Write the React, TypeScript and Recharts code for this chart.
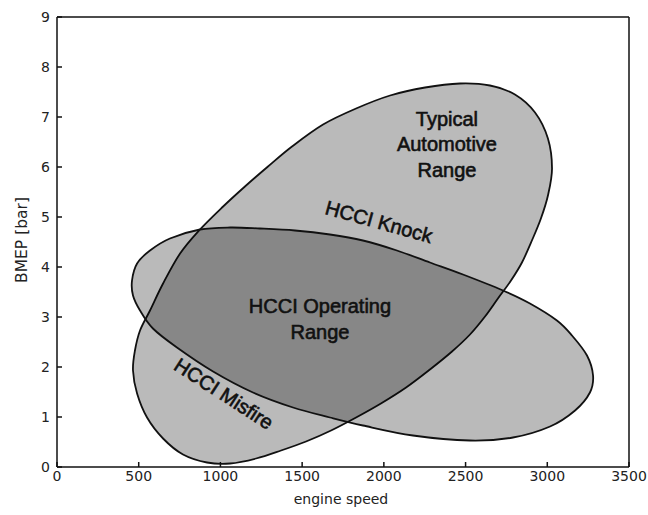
import React from "react";
import { ScatterChart, Scatter, XAxis, YAxis, ReferenceDot } from "recharts";

// outline of the typical automotive range, traced clockwise from the lower-left end
const autoRpm = [490, 465, 477, 508, 569, 649, 753, 869, 1010, 1150, 1291, 1438, 1628, 1830, 2038, 2252, 2466, 2649, 2802, 2925, 3004, 3029, 3004, 2961, 2906, 2845, 2778, 2698, 2619, 2527, 2417, 2282, 2136, 1982, 1830, 1677, 1524, 1371, 1218, 1059, 918, 771, 649, 551];
const autoBmep = [1.47, 1.93, 2.33, 2.73, 3.13, 3.67, 4.27, 4.73, 5.19, 5.61, 6.01, 6.41, 6.85, 7.17, 7.43, 7.59, 7.67, 7.63, 7.45, 7.09, 6.57, 5.97, 5.43, 4.97, 4.53, 4.09, 3.73, 3.37, 3.01, 2.65, 2.31, 1.95, 1.59, 1.27, 0.99, 0.73, 0.51, 0.33, 0.17, 0.07, 0.09, 0.25, 0.57, 0.99];

// outline of the HCCI window (knock limit on top, misfire limit underneath)
const hcciRpm = [459, 490, 569, 691, 875, 1059, 1242, 1456, 1670, 1872, 2080, 2282, 2484, 2729, 2894, 3059, 3151, 3243, 3280, 3261, 3170, 3017, 2790, 2527, 2178, 1872, 1670, 1444, 1199, 955, 734, 587, 508, 465];
const hcciBmep = [3.73, 4.07, 4.33, 4.57, 4.75, 4.79, 4.77, 4.73, 4.65, 4.53, 4.33, 4.09, 3.85, 3.53, 3.27, 2.93, 2.63, 2.23, 1.83, 1.49, 1.13, 0.81, 0.59, 0.53, 0.63, 0.83, 0.99, 1.19, 1.49, 1.91, 2.39, 2.77, 3.13, 3.43];

const rpmTicks = [0, 500, 1000, 1500, 2000, 2500, 3000, 3500];
const bmepTicks = [0, 1, 2, 3, 4, 5, 6, 7, 8, 9];

const autoData = autoRpm.map((rpm, i) => ({ rpm, bmep: autoBmep[i] }));
const hcciData = hcciRpm.map((rpm, i) => ({ rpm, bmep: hcciBmep[i] }));

const AXIS_FONT = "'DejaVu Sans', sans-serif";
const NOTE_FONT = "'Liberation Sans', Arial, sans-serif";

// closed Catmull-Rom spline through the scaled points
function closedPath(pts: { x: number; y: number }[]) {
  const n = pts.length;
  if (!n) return "";
  let d = `M${pts[0].x},${pts[0].y}`;
  for (let i = 0; i < n; i++) {
    const p0 = pts[(i - 1 + n) % n];
    const p1 = pts[i];
    const p2 = pts[(i + 1) % n];
    const p3 = pts[(i + 2) % n];
    const c1x = p1.x + (p2.x - p0.x) / 6;
    const c1y = p1.y + (p2.y - p0.y) / 6;
    const c2x = p2.x - (p3.x - p1.x) / 6;
    const c2y = p2.y - (p3.y - p1.y) / 6;
    d += ` C${c1x},${c1y} ${c2x},${c2y} ${p2.x},${p2.y}`;
  }
  return d + " Z";
}

const region = (props: any) => (
  <path
    d={closedPath(props.points)}
    fill="#000"
    fillOpacity={0.27}
    stroke="#111"
    strokeWidth={1.8}
  />
);

const noMarker = () => <g />;

const note = (lines: string[], angle = 0) => (props: any) => {
  const { x, y } = props.viewBox;
  const n = lines.length;
  return (
    <text
      transform={`rotate(${angle}, ${x}, ${y})`}
      textAnchor="middle"
      fontFamily={NOTE_FONT}
      fontSize={20}
      fill="#111"
      stroke="#111"
      strokeWidth={0.6}
    >
      {lines.map((t, i) => (
        <tspan key={t} x={x} y={y + (i - (n - 1) / 2) * 25.5 + 7.2}>
          {t}
        </tspan>
      ))}
    </text>
  );
};

const xTitle = (props: any) => {
  const { x, y, width } = props.viewBox;
  return (
    <text x={x + width / 2 - 2} y={y + 37} textAnchor="middle" fontFamily={AXIS_FONT} fontSize={14} fill="#222">
      engine speed
    </text>
  );
};

const yTitle = (props: any) => {
  const { x, y, height } = props.viewBox;
  const cx = x + 27;
  const cy = y + height / 2 - 2;
  return (
    <text x={cx} y={cy} transform={`rotate(-90, ${cx}, ${cy})`} textAnchor="middle" fontFamily={AXIS_FONT} fontSize={15.5} fill="#222">
      BMEP [bar]
    </text>
  );
};

const tickStyle = { fill: "#222", fontSize: 14, fontFamily: AXIS_FONT };
const lineStyle = { stroke: "#111", strokeWidth: 1.5 };

export default function App() {
  return (
    <div style={{ width: 648, height: 515, background: "#fff" }}>
      <style>{"body{margin:0}"}</style>
      <ScatterChart width={648} height={515} margin={{ top: 16, right: 18, bottom: 0, left: 0 }}>
        <XAxis
          type="number"
          dataKey="rpm"
          domain={[0, 3500]}
          ticks={rpmTicks}
          height={48}
          tickSize={-5}
          tickMargin={9}
          tick={tickStyle}
          axisLine={lineStyle}
          tickLine={lineStyle}
          label={xTitle}
        />
        <XAxis
          xAxisId="top"
          orientation="top"
          type="number"
          domain={[0, 3500]}
          ticks={rpmTicks}
          height={1}
          tickSize={-5}
          tick={false}
          axisLine={lineStyle}
          tickLine={lineStyle}
        />
        <YAxis
          type="number"
          dataKey="bmep"
          domain={[0, 9]}
          ticks={bmepTicks}
          width={57}
          tickSize={-5}
          tickMargin={12}
          tick={tickStyle}
          axisLine={lineStyle}
          tickLine={lineStyle}
          label={yTitle}
        />
        <YAxis
          yAxisId="right"
          orientation="right"
          type="number"
          domain={[0, 9]}
          ticks={bmepTicks}
          width={1}
          tickSize={-5}
          tick={false}
          axisLine={lineStyle}
          tickLine={lineStyle}
        />
        <Scatter data={autoData} line={region} lineType="joint" shape={noMarker} isAnimationActive={false} />
        <Scatter data={hcciData} line={region} lineType="joint" shape={noMarker} isAnimationActive={false} />
        <ReferenceDot x={2386} y={6.46} r={0} fill="none" stroke="none" label={note(["Typical", "Automotive", "Range"])} />
        <ReferenceDot x={1609} y={2.96} r={0} fill="none" stroke="none" label={note(["HCCI Operating", "Range"])} />
        <ReferenceDot x={1970} y={4.91} r={0} fill="none" stroke="none" label={note(["HCCI Knock"], 15.5)} />
        <ReferenceDot x={1022} y={1.47} r={0} fill="none" stroke="none" label={note(["HCCI Misfire"], 33)} />
      </ScatterChart>
    </div>
  );
}
